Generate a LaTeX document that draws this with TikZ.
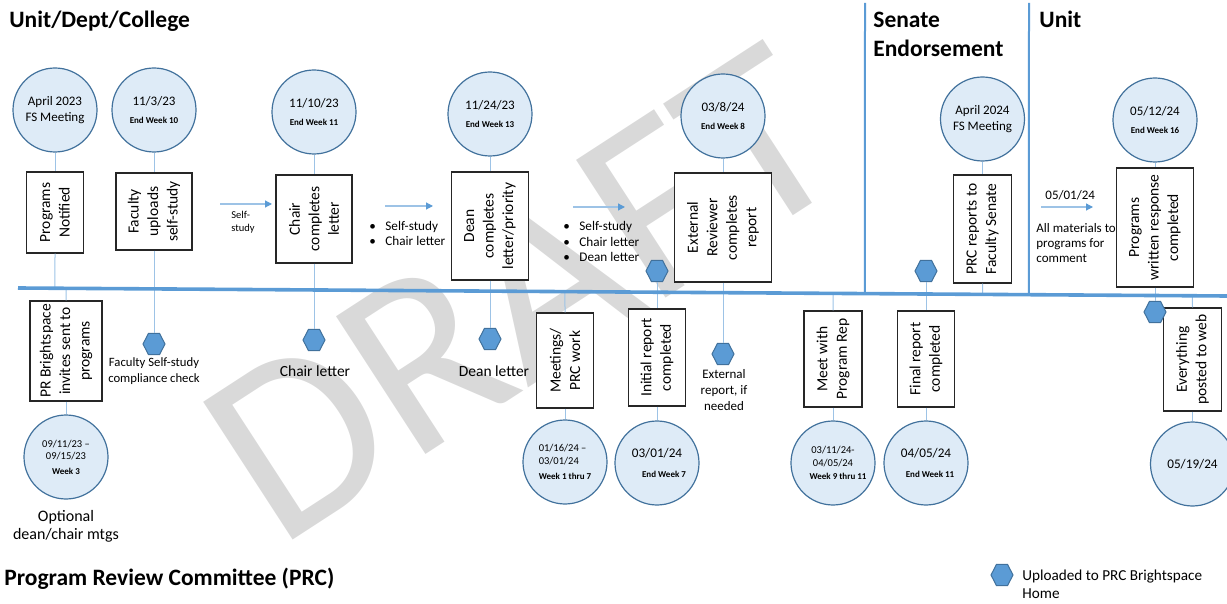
\documentclass[tikz,border=0pt]{standalone}
\usepackage{fontspec}
\setmainfont{Carlito}
\usetikzlibrary{arrows.meta,shapes.geometric,calc}
\definecolor{tlblue}{RGB}{91,155,213}
\definecolor{connblue}{RGB}{157,195,230}
\definecolor{circfill}{RGB}{222,235,247}
\definecolor{circdraw}{RGB}{65,113,156}
\definecolor{wmgray}{RGB}{217,217,217}
\newcommand\cweek[1]{{\fontsize{4.5}{5.5}\selectfont\bfseries #1}}
\newcommand\bulmark{\makebox[8pt][l]{\textbullet}}
\begin{document}
\begin{tikzpicture}[x=0.5pt,y=-0.5pt,
 circ/.style={circle,draw=circdraw,fill=circfill,line width=0.6pt,minimum size=42pt,inner sep=0pt,align=center,font=\fontsize{6.5}{9}\selectfont},
 stepbox/.style={rectangle,draw=black!85,fill=white,line width=0.6pt,rotate=90,align=center,inner sep=0pt,font=\fontsize{7.75}{9.75}\selectfont},
 hexa/.style={regular polygon,regular polygon sides=6,draw=circdraw,fill=tlblue,line width=0.5pt,minimum size=11pt,inner sep=0pt,yscale=1.12},
 conn/.style={draw=connblue,line width=0.5pt},
 arr/.style={draw=connblue,line width=0.6pt,-{Triangle[length=3.5pt,width=3.5pt,color=tlblue]}},
 timeline/.style={draw=tlblue,line width=1.8pt},
 divider/.style={draw=tlblue,line width=1pt},
 head/.style={font=\fontsize{11.75}{14.5}\selectfont\bfseries,inner sep=0pt,align=left},
 lbl/.style={inner sep=0pt,align=center},
]
\useasboundingbox (0,0) rectangle (1227,604);
% watermark
\node[font=\fontsize{128}{128}\selectfont,text=wmgray,rotate=33,inner sep=0pt] (wm) at (522,294) {DRAFT};

% timeline coordinates
\coordinate (tlL) at (18,288);
\coordinate (tlR) at (1227,296);

% circles
\node[circ,font=\fontsize{6.5}{8}\selectfont] (c1) at (55,110) {April 2023\\FS Meeting};
\node[circ] (c2) at (154,110) {11/3/23\\\cweek{End Week 10}};
\node[circ] (c3) at (314,112) {11/10/23\\\cweek{End Week 11}};
\node[circ] (c4) at (490,114) {11/24/23\\\cweek{End Week 13}};
\node[circ] (c5) at (723,116) {03/8/24\\\cweek{End Week 8}};
\node[circ,font=\fontsize{6.5}{8}\selectfont] (c6) at (982.5,119) {April 2024\\FS Meeting};
\node[circ] (c7) at (1155,120) {05/12/24\\\cweek{End Week 16}};
\node[circ,font=\fontsize{5.25}{6}\selectfont] (c8) at (66,457) {09/11/23 –\\09/15/23\\[1.5pt]\cweek{Week 3}};
\node[circ,font=\fontsize{5.25}{6.5}\selectfont,align=left] (c9) at (565,462) {01/16/24 –\\03/01/24\\[1pt]\cweek{Week 1 thru 7}};
\node[circ,font=\fontsize{6.6}{10}\selectfont] (c10) at (657,463) {03/01/24\\\hspace*{7pt}\cweek{End Week 7}};
\node[circ,font=\fontsize{5.25}{6.5}\selectfont] (c11) at (833,463) {03/11/24-\\04/05/24\\\hspace*{5pt}\cweek{Week 9 thru 11}};
\node[circ,font=\fontsize{6.6}{10}\selectfont] (c12) at (926,463) {04/05/24\\\hspace*{4pt}\cweek{End Week 11}};
\node[circ,font=\fontsize{6.6}{8}\selectfont] (c13) at (1192.5,464) {05/19/24};

% boxes (rotated text)
\node[stepbox,minimum width=40.5pt,minimum height=28.5pt] (b1) at (55,212.5) {Programs\\Notified};
\node[stepbox,minimum width=38.5pt,minimum height=38pt] (b2) at (154,211.5) {Faculty\\uploads\\self-study};
\node[stepbox,minimum width=44pt,minimum height=38pt] (b3) at (314,219) {Chair\\completes\\letter};
\node[stepbox,minimum width=54pt,minimum height=38.5pt] (b4) at (490,226) {Dean\\completes\\letter/priority};
\node[stepbox,minimum width=54.5pt,minimum height=48.5pt] (b5) at (723,227.5) {External\\Reviewer\\completes\\report};
\node[stepbox,minimum width=54pt,minimum height=29pt] (b6) at (982.5,229) {PRC reports to\\Faculty Senate};
\node[stepbox,minimum width=59.5pt,minimum height=38.5pt] (b7) at (1155,227.5) {Programs\\written response\\completed};
\node[stepbox,minimum width=50pt,minimum height=36pt] (b8) at (66,351) {PR Brightspace\\invites sent to\\programs};
\node[stepbox,minimum width=47.5pt,minimum height=28.5pt] (b9) at (565,360.5) {Meetings/\\PRC work};
\node[stepbox,minimum width=48.5pt,minimum height=28.5pt] (b10) at (657,357.5) {Initial report\\completed};
\node[stepbox,minimum width=48pt,minimum height=29pt] (b11) at (833,359) {Meet with\\Program Rep};
\node[stepbox,minimum width=48pt,minimum height=28.5pt] (b12) at (926,359) {Final report\\completed};
\node[stepbox,minimum width=51.5pt,minimum height=29pt] (b13) at (1192.5,359.5) {Everything\\posted to web};

% hexagons
\node[hexa] (h1) at (154,344) {};
\node[hexa] (h2) at (314,340) {};
\node[hexa] (h3) at (490,339) {};
\node[hexa] (h4) at (657,271) {};
\node[hexa] (h5) at (723,354) {};
\node[hexa] (h6) at (926,271) {};
\node[hexa] (h7) at (1155,312) {};
\node[hexa] (hleg) at (1002,575) {};

% labels
\node[lbl,font=\fontsize{6.35}{8}\selectfont] (t1) at (154,371) {Faculty Self-study\\compliance check};
\node[lbl,font=\fontsize{7.75}{9}\selectfont] (t2) at (315,371) {Chair letter};
\node[lbl,font=\fontsize{7.75}{9}\selectfont] (t3) at (494,371) {Dean letter};
\node[lbl,font=\fontsize{6.5}{8}\selectfont] (t4) at (724,390) {External\\report, if\\needed};
\node[lbl,font=\fontsize{8}{9}\selectfont] (t5) at (66,526) {Optional\\dean/chair mtgs};
\node[lbl,anchor=west,align=left,font=\fontsize{5.25}{6.5}\selectfont] (t6) at (231,222.5) {Self-\\study};
\node[lbl,anchor=west,align=left,font=\fontsize{6.6}{7.5}\selectfont] (t7) at (369,233.5) {\bulmark Self-study\\\bulmark Chair letter};
\node[lbl,anchor=west,align=left,font=\fontsize{6.6}{7.75}\selectfont] (t8) at (563,241.5) {\bulmark Self-study\\\bulmark Chair letter\\\bulmark Dean letter};
\node[lbl,anchor=west,font=\fontsize{6.5}{8}\selectfont] (t9) at (1045,195) {05/01/24};
\node[lbl,anchor=west,align=left,font=\fontsize{6.5}{7.5}\selectfont] (t10) at (1036,243) {All materials to\\programs for\\comment};
\node[lbl,anchor=west,align=left,font=\fontsize{7.6}{9}\selectfont] (t11) at (1022,584) {Uploaded to PRC Brightspace\\Home};

% headings
\node[head,anchor=base west] (hd1) at (9,28) {Unit/Dept/College};
\node[head,anchor=south west] (hd2) at (873,57) {Senate\\Endorsement};
\node[head,anchor=base west] (hd3) at (1039,28) {Unit};
\node[head,anchor=base west] (hd4) at (4,585) {Program Review Committee (PRC)};

% connectors
\draw[conn] (c1.south) -- (b1.east);
\draw[conn] (b1.west) -- (intersection of tlL--tlR and b1.west--b1.east);
\draw[conn] (intersection of tlL--tlR and b8.east--b8.west) -- (b8.east);
\draw[conn] (b8.west) -- (c8.north);
\draw[conn] (c2.south) -- (b2.east);
\draw[conn] (b2.west) -- (h1.north);
\draw[conn] (c3.south) -- (b3.east);
\draw[conn] (b3.west) -- (h2.north);
\draw[conn] (c4.south) -- (b4.east);
\draw[conn] (b4.west) -- (h3.north);
\draw[conn] (intersection of tlL--tlR and b9.east--b9.west) -- (b9.east);
\draw[conn] (b9.west) -- (c9.north);
\draw[conn] (h4.south) -- (b10.east);
\draw[conn] (b10.west) -- (c10.north);
\draw[conn] (c5.south) -- (b5.east);
\draw[conn] (b5.west) -- (h5.north);
\draw[conn] (intersection of tlL--tlR and b11.east--b11.west) -- (b11.east);
\draw[conn] (b11.west) -- (c11.north);
\draw[conn] (h6.south) -- (b12.east);
\draw[conn] (b12.west) -- (c12.north);
\draw[conn] (c6.south) -- (b6.east);
\draw[conn] (b6.west) -- (intersection of tlL--tlR and b6.west--b6.east);
\draw[conn] (c7.south) -- (b7.east);
\draw[conn] (b7.west) -- (h7.north);
\draw[conn] (intersection of tlL--tlR and b13.east--b13.west) -- (b13.east);
\draw[conn] (b13.west) -- (c13.north);

% arrows
\coordinate (a1s) at (220,204); \coordinate (a1e) at (272,204);
\coordinate (a2s) at (385,206); \coordinate (a2e) at (433,206);
\coordinate (a3s) at (573,207); \coordinate (a3e) at (625,207);
\coordinate (a4s) at (1041,207); \coordinate (a4e) at (1093,207);
\draw[arr] (a1s) -- (a1e);
\draw[arr] (a2s) -- (a2e);
\draw[arr] (a3s) -- (a3e);
\draw[arr] (a4s) -- (a4e);

% timeline and dividers
\draw[timeline] (tlL) -- (tlR);
\coordinate (d1) at (865,3); \coordinate (d1b) at (865,400);
\coordinate (d2) at (1029,3); \coordinate (d2b) at (1029,400);
\draw[divider] (d1) -- (intersection of tlL--tlR and d1--d1b);
\draw[divider] (d2) -- (intersection of tlL--tlR and d2--d2b);
\end{tikzpicture}
\end{document}
